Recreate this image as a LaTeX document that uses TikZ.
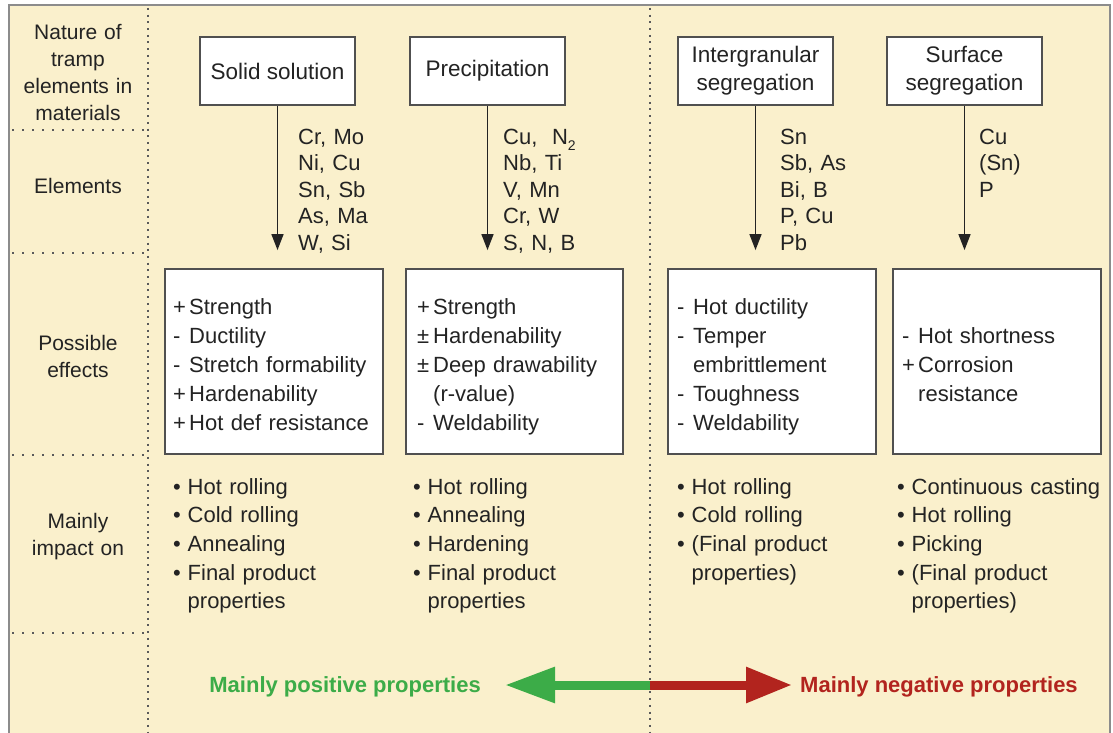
\documentclass[tikz,border=0pt]{standalone}
\usepackage{fontspec}
\setmainfont{Liberation Sans}
\usetikzlibrary{arrows.meta}
\definecolor{bg}{RGB}{250,240,204}
\definecolor{framegray}{RGB}{140,140,140}
\definecolor{boxgray}{RGB}{80,80,80}
\definecolor{dotgray}{RGB}{90,90,90}
\definecolor{txt}{RGB}{35,35,35}
\definecolor{posgreen}{RGB}{60,172,72}
\definecolor{negred}{RGB}{178,36,30}
\newcommand{\sgnbox}[1]{\makebox[16pt][l]{#1}}
\newcommand{\bulbox}{\makebox[14.5pt][l]{•}}
\begin{document}
\begin{tikzpicture}[x=1pt,y=-1pt,
  every node/.style={text=txt, inner sep=0pt},
  dotv/.style={dotgray, line width=2pt, dash pattern=on 2pt off 4.7pt},
  doth/.style={dotgray, line width=2pt, dash pattern=on 2pt off 8pt},
  lbl/.style={anchor=base, text width=136pt, align=center, font=\fontsize{21}{27}\selectfont},
  topbox/.style={draw=boxgray, line width=1.8pt, fill=white, minimum width=155pt, minimum height=68pt, align=center, font=\fontsize{22.5}{28}\selectfont},
  effbox/.style={draw=boxgray, line width=1.8pt, fill=white, minimum height=185pt},
  elist/.style={anchor=base west, text width=240pt, align=left, font=\fontsize{22}{26.5}\selectfont},
  flist/.style={anchor=base west, text width=240pt, align=left, font=\fontsize{22}{29}\selectfont},
  ilist/.style={anchor=base west, text width=240pt, align=left, font=\fontsize{22}{28.7}\selectfont},
  conn/.style={draw=txt, line width=1.5pt, -{Triangle[length=16pt,width=12pt]}, shorten >=18pt},
  bigtext/.style={font=\fontsize{22}{26}\selectfont\bfseries}
]
\useasboundingbox (0,0) rectangle (1113,733);
\fill[white] (0,0) rectangle (1113,733);
\fill[bg] (9,5) rectangle (1110,733);
\draw[framegray, line width=2.5pt] (9,733) -- (9,5) -- (1110,5) -- (1110,733);

% dotted grid
\draw[dotv] (148,8) -- (148,733);
\draw[dotv] (650,8) -- (650,733);
\draw[doth] (12,130) -- (148,130);
\draw[doth] (12,253) -- (148,253);
\draw[doth] (12,455) -- (148,455);
\draw[doth] (12,633) -- (148,633);

% row labels
\node[lbl] (lnature) at (78,40) {Nature of\\tramp\\elements in\\materials};
\node[lbl] (lelem) at (78,193) {Elements};
\node[lbl] (leff) at (78,350) {Possible\\effects};
\node[lbl] (limp) at (78,528) {Mainly\\impact on};

% top boxes
\node[topbox] (ss) at (277.5,71) {Solid solution};
\node[topbox] (pr) at (487.5,71) {Precipitation};
\node[topbox] (ig) at (755.5,71) {Intergranular\\segregation};
\node[topbox] (su) at (964.5,71) {Surface\\segregation};

% effect boxes
\node[effbox, minimum width=218pt] (ssb) at (274,361.5) {};
\node[effbox, minimum width=217pt] (prb) at (514.5,361.5) {};
\node[effbox, minimum width=208pt] (igb) at (772,361.5) {};
\node[effbox, minimum width=208pt] (sub) at (997,361.5) {};

% connectors
\draw[conn] (ss.south) -- (ss.south |- ssb.north);
\draw[conn] (pr.south) -- (pr.south |- prb.north);
\draw[conn] (ig.south) -- (ig.south |- igb.north);
\draw[conn] (su.south) -- (su.south |- sub.north);

% elements
\node[elist] (ess) at (298,144) {Cr, Mo\\Ni, Cu\\Sn, Sb\\As, Ma\\W, Si};
\node[elist] (epr) at (503,144) {Cu,\ \ N\raisebox{-6pt}{\fontsize{14}{14}\selectfont 2}\\Nb, Ti\\V, Mn\\Cr, W\\S, N, B};
\node[elist] (eig) at (780,144) {Sn\\Sb, As\\Bi, B\\P, Cu\\Pb};
\node[elist] (esu) at (979,144) {Cu\\(Sn)\\P};

% possible effects
\node[flist] (fss) at (173,314) {\sgnbox{+}Strength\\\sgnbox{-}Ductility\\\sgnbox{-}Stretch formability\\\sgnbox{+}Hardenability\\\sgnbox{+}Hot def resistance};
\node[flist] (fpr) at (417,314) {\sgnbox{+}Strength\\\sgnbox{±}Hardenability\\\sgnbox{±}Deep drawability\\\sgnbox{}(r-value)\\\sgnbox{-}Weldability};
\node[flist] (fig) at (677,314) {\sgnbox{-}Hot ductility\\\sgnbox{-}Temper\\\sgnbox{}embrittlement\\\sgnbox{-}Toughness\\\sgnbox{-}Weldability};
\node[flist] (fsu) at (902,343) {\sgnbox{-}Hot shortness\\\sgnbox{+}Corrosion\\\sgnbox{}resistance};

% mainly impact on
\node[ilist] (iss) at (173,494) {\bulbox Hot rolling\\\bulbox Cold rolling\\\bulbox Annealing\\\bulbox Final product\\\hspace*{14.5pt}properties};
\node[ilist] (ipr) at (413,494) {\bulbox Hot rolling\\\bulbox Annealing\\\bulbox Hardening\\\bulbox Final product\\\hspace*{14.5pt}properties};
\node[ilist] (iig) at (677,494) {\bulbox Hot rolling\\\bulbox Cold rolling\\\bulbox (Final product\\\hspace*{14.5pt}properties)};
\node[ilist] (isu) at (897,494) {\bulbox Continuous casting\\\bulbox Hot rolling\\\bulbox Picking\\\bulbox (Final product\\\hspace*{14.5pt}properties)};

% bottom arrow
\node[bigtext, text=posgreen, anchor=base east] (pos) at (481,692) {Mainly positive properties};
\node[bigtext, text=negred, anchor=base west] (neg) at (800,692) {Mainly negative properties};
\coordinate (split) at (650,685);
\coordinate (gtip) at (505,685);
\coordinate (rtip) at (792,685);
\draw[posgreen, line width=9pt, -{Triangle[length=50pt,width=34pt]}] (split) -- (gtip);
\draw[negred, line width=9pt, -{Triangle[length=46pt,width=34pt]}] (split) -- (rtip);
\end{tikzpicture}
\end{document}
